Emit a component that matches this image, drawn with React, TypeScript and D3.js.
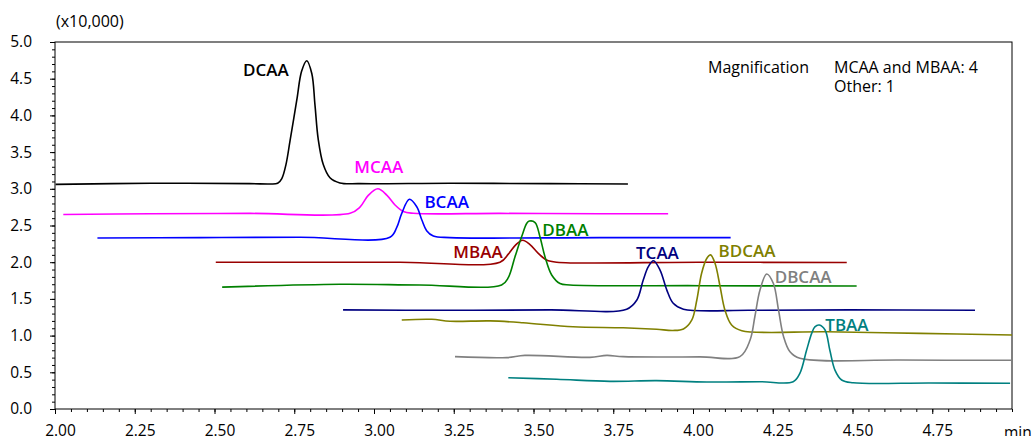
import React, { useEffect, useRef } from "react";
import * as d3 from "d3";

type Pt = [number, number];

// retention time (min), intensity (x10,000)
const dcaa: Pt[] = [
  [2.002, 3.06], [2.3, 3.075], [2.61, 3.07], [2.674, 3.065], [2.698, 3.075],
  [2.711, 3.14], [2.724, 3.33], [2.737, 3.66], [2.758, 4.21], [2.773, 4.6], [2.789, 4.745],
  [2.805, 4.57], [2.815, 4.14], [2.825, 3.68], [2.841, 3.33], [2.862, 3.15],
  [2.893, 3.08], [2.956, 3.07], [3.238, 3.075], [3.552, 3.07], [3.796, 3.065],
];
const mcaa: Pt[] = [
  [2.026, 2.65], [2.298, 2.66], [2.611, 2.665], [2.925, 2.666], [2.956, 2.75],
  [2.982, 2.91], [3.012, 3.0], [3.04, 2.915], [3.066, 2.78], [3.092, 2.69],
  [3.123, 2.666], [3.395, 2.665], [3.708, 2.66], [3.922, 2.66],
];
const bcaa: Pt[] = [
  [2.133, 2.33], [2.455, 2.335], [2.768, 2.34], [3.05, 2.34], [3.071, 2.47],
  [3.087, 2.666], [3.111, 2.857], [3.134, 2.756], [3.15, 2.575], [3.165, 2.43],
  [3.186, 2.357], [3.238, 2.335], [3.708, 2.335], [4.118, 2.335],
];
const mbaa: Pt[] = [
  [2.504, 2.0], [2.768, 2.0], [3.082, 2.0], [3.395, 2.0], [3.421, 2.11],
  [3.445, 2.24], [3.466, 2.3], [3.489, 2.24], [3.515, 2.12], [3.541, 2.03],
  [3.573, 2.0], [4.022, 2.0], [4.482, 1.995],
];
const dbaa: Pt[] = [
  [2.524, 1.66], [2.893, 1.7], [3.144, 1.69], [3.4, 1.69], [3.421, 1.79],
  [3.442, 2.075], [3.463, 2.35], [3.479, 2.53], [3.487, 2.56], [3.505, 2.54],
  [3.52, 2.35], [3.536, 2.075], [3.557, 1.826], [3.583, 1.71], [3.614, 1.69],
  [4.022, 1.68], [4.513, 1.676],
];
const tcaa: Pt[] = [
  [2.903, 1.35], [3.238, 1.345], [3.552, 1.35], [3.792, 1.36], [3.824, 1.485],
  [3.844, 1.757], [3.86, 1.94], [3.876, 2.02], [3.897, 1.89], [3.918, 1.62],
  [3.938, 1.44], [3.97, 1.36], [4.179, 1.345], [4.492, 1.35], [4.884, 1.345],
];
const bdcaa: Pt[] = [
  [3.087, 1.213], [3.181, 1.222], [3.238, 1.195], [3.364, 1.2], [3.467, 1.176],
  [3.624, 1.12], [3.781, 1.107], [3.886, 1.086], [3.937, 1.07], [3.97, 1.09],
  [3.996, 1.21], [4.012, 1.485], [4.027, 1.85], [4.043, 2.05], [4.055, 2.1],
  [4.069, 1.985], [4.085, 1.666], [4.1, 1.35], [4.121, 1.144], [4.153, 1.067],
  [4.419, 1.053], [4.712, 1.03], [5.0, 1.008],
];
const dbcaa: Pt[] = [
  [3.254, 0.713], [3.416, 0.7], [3.473, 0.73], [3.677, 0.704], [3.73, 0.73],
  [3.781, 0.713], [4.022, 0.71], [4.147, 0.713], [4.179, 0.94], [4.194, 1.26],
  [4.21, 1.62], [4.231, 1.84], [4.252, 1.71], [4.268, 1.35], [4.284, 0.985],
  [4.304, 0.78], [4.335, 0.69], [4.649, 0.667], [5.0, 0.665],
];
const tbaa: Pt[] = [
  [3.421, 0.426], [3.573, 0.405], [3.74, 0.377], [3.886, 0.386], [4.043, 0.368],
  [4.21, 0.372], [4.314, 0.372], [4.335, 0.486], [4.356, 0.8], [4.372, 1.03],
  [4.382, 1.12], [4.396, 1.144], [4.414, 1.076], [4.429, 0.8], [4.445, 0.53],
  [4.466, 0.395], [4.502, 0.358], [4.743, 0.355], [4.994, 0.35],
];

const compounds = ["DCAA", "MCAA", "BCAA", "MBAA", "DBAA", "TCAA", "BDCAA", "DBCAA", "TBAA"];
const traces = [dcaa, mcaa, bcaa, mbaa, dbaa, tcaa, bdcaa, dbcaa, tbaa];

const xTicks = [2.0, 2.25, 2.5, 2.75, 3.0, 3.25, 3.5, 3.75, 4.0, 4.25, 4.5, 4.75];
const yTicks = [0, 0.5, 1.0, 1.5, 2.0, 2.5, 3.0, 3.5, 4.0, 4.5, 5.0];

// colour + label offset from the peak (px)
const styles: Record<string, { color: string; anchor: string; dx: number; dy: number }> = {
  DCAA: { color: "#000000", anchor: "end", dx: -18, dy: 15 },
  MCAA: { color: "#ff00ff", anchor: "middle", dx: 1, dy: -16 },
  BCAA: { color: "#0000ff", anchor: "start", dx: 15, dy: 9 },
  MBAA: { color: "#990000", anchor: "end", dx: -20, dy: 18 },
  DBAA: { color: "#008000", anchor: "start", dx: 13, dy: 15 },
  TCAA: { color: "#000080", anchor: "middle", dx: 4, dy: -2 },
  BDCAA: { color: "#808000", anchor: "start", dx: 8, dy: 2 },
  DBCAA: { color: "#808080", anchor: "start", dx: 8, dy: 9 },
  TBAA: { color: "#008080", anchor: "start", dx: 6, dy: 6 },
};

const W = 1035, H = 436;
const margin = { top: 42, right: 23, bottom: 27, left: 55 };
const FONT = "'Open Sans', 'DejaVu Sans', sans-serif";

export default function App() {
  const ref = useRef<SVGSVGElement>(null);

  useEffect(() => {
    const svg = d3.select(ref.current);
    svg.selectAll("*").remove();

    const x = d3.scaleLinear().domain([2, 5]).range([margin.left, W - margin.right]);
    const y = d3.scaleLinear().domain([0, 5]).range([H - margin.bottom, margin.top]);

    const g = svg.append("g").attr("font-family", FONT);

    // minor ticks
    const xMinor = d3.range(2, 5.0001, 0.05);
    const yMinor = d3.range(0, 5.0001, 0.1);

    g.append("g")
      .attr("transform", `translate(0,${y(0)})`)
      .call(d3.axisBottom(x).tickValues(xMinor).tickSize(3).tickFormat(() => ""))
      .call(s => s.select(".domain").remove());
    const xa = g.append("g")
      .attr("transform", `translate(0,${y(0)})`)
      .call(d3.axisBottom(x).tickValues(xTicks).tickSize(5).tickPadding(11).tickFormat(d3.format(".2f")))
      .call(s => s.select(".domain").remove());
    xa.selectAll("text").attr("font-size", 15.5).attr("font-family", FONT).attr("dx", 5).attr("fill", "#000");

    g.append("g")
      .attr("transform", `translate(${x(2)},0)`)
      .call(d3.axisLeft(y).tickValues(yMinor).tickSize(3).tickFormat(() => ""))
      .call(s => s.select(".domain").remove());
    const ya = g.append("g")
      .attr("transform", `translate(${x(2)},0)`)
      .call(d3.axisLeft(y).tickValues(yTicks).tickSize(5).tickPadding(18).tickFormat(d3.format(".1f")))
      .call(s => s.select(".domain").remove());
    ya.selectAll("text").attr("font-size", 15.5).attr("font-family", FONT).attr("fill", "#000");

    // frame
    g.append("rect")
      .attr("x", x(2)).attr("y", y(5))
      .attr("width", x(5) - x(2)).attr("height", y(0) - y(5))
      .attr("fill", "none").attr("stroke", "#000").attr("stroke-width", 1);

    g.append("text").attr("x", x(2) + 1).attr("y", 27).attr("font-size", 16).text("(x10,000)");
    g.append("text").attr("x", x(5) - 8).attr("y", y(0) + 29).attr("font-size", 15.5).text("min");

    const line = d3.line<Pt>().x(d => x(d[0])).y(d => y(d[1])).curve(d3.curveCatmullRom.alpha(0.5));

    traces.forEach((tr, i) => {
      const name = compounds[i];
      const st = styles[name];
      g.append("path")
        .datum(tr)
        .attr("d", line)
        .attr("fill", "none")
        .attr("stroke", st.color)
        .attr("stroke-width", 1.6)
        .attr("stroke-linejoin", "round");
      const peak = tr.reduce((a, b) => (b[1] > a[1] ? b : a));
      g.append("text")
        .attr("x", x(peak[0]) + st.dx)
        .attr("y", y(peak[1]) + st.dy)
        .attr("text-anchor", st.anchor)
        .attr("font-size", 17)
        .attr("font-weight", 600)
        .attr("fill", st.color)
        .text(name);
    });

    const note = g.append("g").attr("font-size", 16).attr("fill", "#000");
    note.append("text").attr("x", 708).attr("y", 73).text("Magnification");
    note.append("text").attr("x", 834).attr("y", 73).text("MCAA and MBAA: 4");
    note.append("text").attr("x", 834).attr("y", 92).text("Other: 1");
  }, []);

  return (
    <svg
      ref={ref}
      width={W}
      height={H}
      style={{ position: "absolute", left: 0, top: 0, background: "#fff" }}
    />
  );
}
